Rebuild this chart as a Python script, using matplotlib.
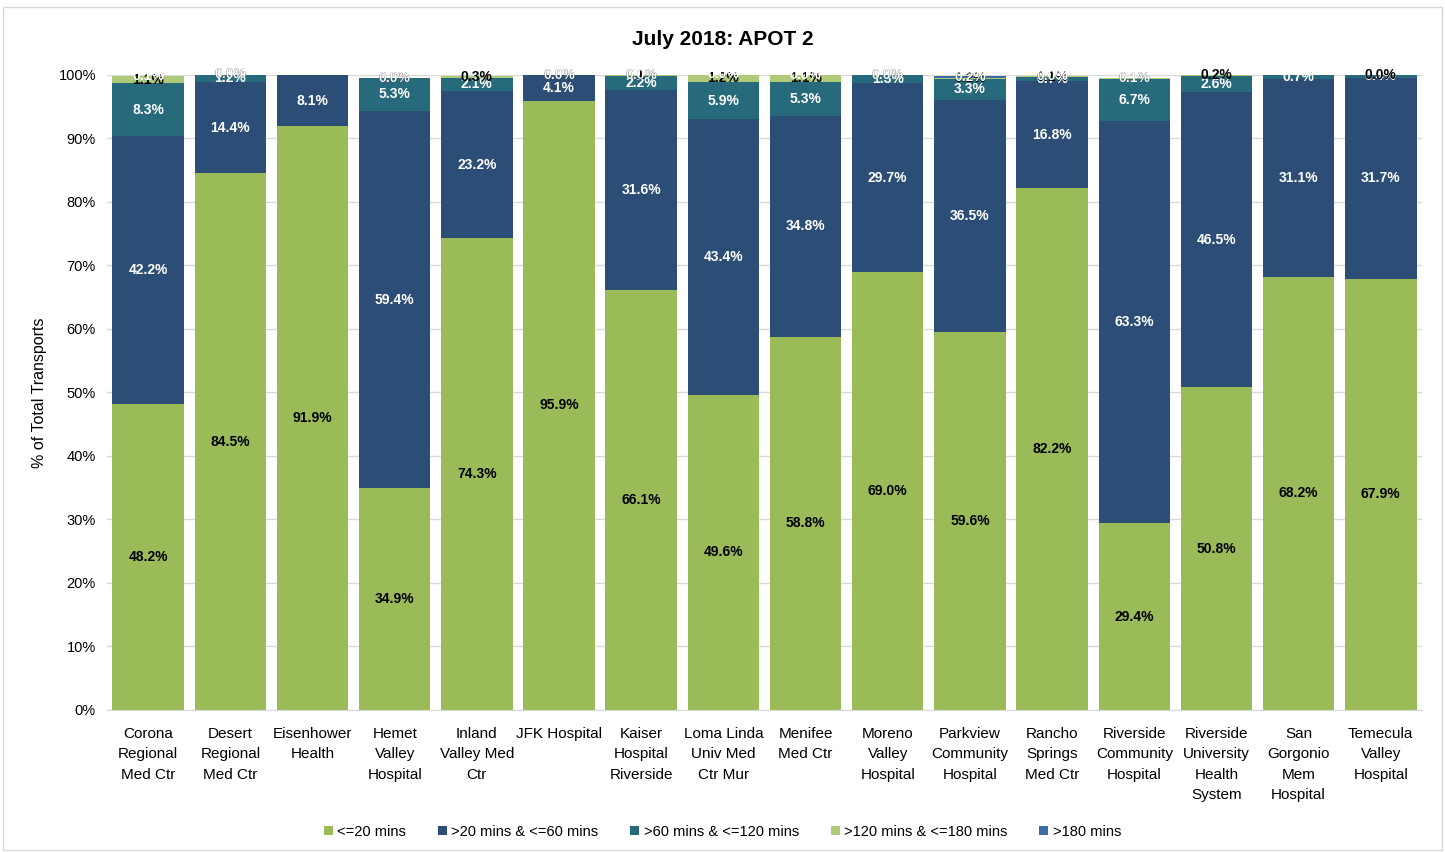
import numpy as np
import matplotlib.pyplot as plt
from matplotlib.patches import Rectangle

# hospitals and the share of transports in each offload time band
hospitals = ["Corona\nRegional\nMed Ctr", "Desert\nRegional\nMed Ctr", "Eisenhower\nHealth",
             "Hemet\nValley\nHospital", "Inland\nValley Med\nCtr", "JFK Hospital",
             "Kaiser\nHospital\nRiverside", "Loma Linda\nUniv Med\nCtr Mur", "Menifee\nMed Ctr",
             "Moreno\nValley\nHospital", "Parkview\nCommunity\nHospital", "Rancho\nSprings\nMed Ctr",
             "Riverside\nCommunity\nHospital", "Riverside\nUniversity\nHealth\nSystem",
             "San\nGorgonio\nMem\nHospital", "Temecula\nValley\nHospital"]
nan = np.nan
le20 = [48.2, 84.5, 91.9, 34.9, 74.3, 95.9, 66.1, 49.6, 58.8, 69.0, 59.6, 82.2, 29.4, 50.8, 68.2, 67.9]
m20_60 = [42.2, 14.4, 8.1, 59.4, 23.2, 4.1, 31.6, 43.4, 34.8, 29.7, 36.5, 16.8, 63.3, 46.5, 31.1, 31.7]
m60_120 = [8.3, 1.2, nan, 5.3, 2.1, nan, 2.2, 5.9, 5.3, 1.3, 3.3, 0.7, 6.7, 2.6, 0.7, 0.4]
m120_180 = [1.1, 0.0, nan, 0.0, 0.3, 0.0, 0.1, 1.2, 1.1, 0.0, 0.2, 0.1, 0.1, 0.2, nan, 0.0]
gt180 = [0.1, 0.0, nan, 0.0, nan, 0.0, 0.0, 0.0, 0.0, 0.0, 0.2, 0.0, 0.1, nan, nan, nan]

series = [("<=20 mins", le20, "#9BBB59", "black"),
          (">20 mins & <=60 mins", m20_60, "#2C4D75", "white"),
          (">60 mins & <=120 mins", m60_120, "#276A7C", "white"),
          (">120 mins & <=180 mins", m120_180, "#AFCB7A", "black"),
          (">180 mins", gt180, "#3D6BA8", "white")]

fig = plt.figure(figsize=(14.45, 8.52), dpi=100)
plt.rcParams['font.family'] = ['Liberation Sans', 'DejaVu Sans']
ax = fig.add_axes([0.0741, 0.1667, 0.9099, 0.7453])

x = np.arange(len(hospitals))
bottom = np.zeros(len(hospitals))
for name, vals, color, tcol in series:
    v = np.nan_to_num(np.array(vals, dtype=float))
    bars = ax.bar(x, v, 0.87, bottom=bottom, color=color, label=name, zorder=2)
    for i, val in enumerate(vals):
        if np.isnan(val):
            continue
        ax.text(x[i], bottom[i] + v[i] / 2, f"{val:.1f}%", ha="center", va="center",
                color=tcol, fontsize=10, fontweight="bold", zorder=3)
    bottom += v

ax.set_xlim(-0.5, len(hospitals) - 0.5)
ax.set_ylim(0, 100)
ax.set_yticks(np.arange(0, 101, 10))
ax.set_yticklabels([f"{t}%" for t in range(0, 101, 10)], fontsize=10.5)
ax.set_xticks(x)
ax.set_xticklabels(hospitals, fontsize=11, linespacing=1.6)
ax.tick_params(length=0, pad=8)
ax.tick_params(axis="x", pad=12)
ax.grid(axis="y", color="#D9D9D9", linewidth=1, zorder=0)
for s in ["top", "right", "left"]:
    ax.spines[s].set_visible(False)
ax.spines["bottom"].set_color("#D9D9D9")
ax.set_ylabel("% of Total Transports", fontsize=11.5, labelpad=8)

fig.suptitle("July 2018: APOT 2", fontsize=15, fontweight="bold", y=0.965)
fig.legend(loc="lower center", bbox_to_anchor=(0.5, 0.0), ncol=5, frameon=False,
           fontsize=10.5, handlelength=0.6, handleheight=0.6, columnspacing=2.2, handletextpad=0.3)
fig.patches.append(Rectangle((0.002, 0.002), 0.996, 0.99, transform=fig.transFigure,
                             fill=False, edgecolor="#D9D9D9", linewidth=1))

fig.savefig("out.png", dpi=100)
